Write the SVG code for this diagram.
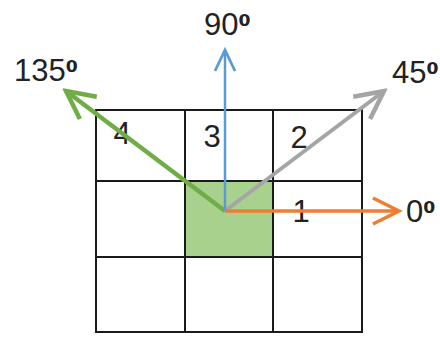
<svg xmlns="http://www.w3.org/2000/svg" width="440" height="338" viewBox="0 0 440 338">
<style>
.t{font-family:"Liberation Sans","Open Sans",sans-serif;font-size:31px;fill:#222}
.sup{font-family:"DejaVu Sans",sans-serif;font-size:28px;font-weight:bold}
.grid{fill:none;stroke:#1a1a1a;stroke-width:2}
.arr{fill:none;stroke-linecap:butt}
</style>
<defs>
<marker id="mG" markerUnits="userSpaceOnUse" viewBox="-32 -17 36 34" refX="0" refY="0" markerWidth="36" markerHeight="34" orient="auto"><path d="M-28,-14 L0,0 L-28,14" fill="none" stroke="#70AD47" stroke-width="4.5" stroke-linejoin="miter"/></marker>
<marker id="mS" markerUnits="userSpaceOnUse" viewBox="-32 -17 36 34" refX="0" refY="0" markerWidth="36" markerHeight="34" orient="auto"><path d="M-28,-14 L0,0 L-28,14" fill="none" stroke="#A5A5A5" stroke-width="4.5" stroke-linejoin="miter"/></marker>
<marker id="mO" markerUnits="userSpaceOnUse" viewBox="-32 -17 36 34" refX="0" refY="0" markerWidth="36" markerHeight="34" orient="auto"><path d="M-26,-13 L0,0 L-26,13" fill="none" stroke="#ED7D31" stroke-width="3.5" stroke-linejoin="miter"/></marker>
<marker id="mB" markerUnits="userSpaceOnUse" viewBox="-32 -17 36 34" refX="0" refY="0" markerWidth="36" markerHeight="34" orient="auto"><path d="M-21,-10 L0,0 L-21,10" fill="none" stroke="#5B9BD5" stroke-width="2.8" stroke-linejoin="miter"/></marker>
</defs>
<rect width="440" height="338" fill="#fff"/>
<g id="grid">
<rect x="185" y="181" width="88" height="76" fill="#A9D18E"/>
<rect class="grid" x="96" y="110" width="266" height="222"/>
<path class="grid" d="M185,110V332M273,110V332M96,181H362M96,257H362"/>
</g>
<g id="cell4"><text class="t" x="122" y="144" text-anchor="middle">4</text></g>
<g id="cell3"><text class="t" x="212" y="147" text-anchor="middle">3</text></g>
<g id="cell2"><text class="t" x="299" y="148" text-anchor="middle">2</text></g>
<g id="cell1"><text class="t" x="301" y="222" text-anchor="middle">1</text></g>
<g id="connectors">
<line class="arr" x1="225" y1="211" x2="66" y2="91" stroke="#70AD47" stroke-width="4.5" marker-end="url(#mG)"/>
<line class="arr" x1="225" y1="211" x2="384" y2="91" stroke="#A5A5A5" stroke-width="4" marker-end="url(#mS)"/>
<line class="arr" x1="225" y1="211" x2="225" y2="50" stroke="#5B9BD5" stroke-width="2.5" marker-end="url(#mB)"/>
<line class="arr" x1="225" y1="211" x2="399" y2="211" stroke="#ED7D31" stroke-width="3.5" marker-end="url(#mO)"/>
</g>
<g id="label135"><text class="t" x="14" y="81">135<tspan class="sup">⁰</tspan></text></g>
<g id="label90"><text class="t" x="204" y="35">90<tspan class="sup">⁰</tspan></text></g>
<g id="label45"><text class="t" x="392" y="83">45<tspan class="sup">⁰</tspan></text></g>
<g id="label0"><text class="t" x="406" y="222">0<tspan class="sup">⁰</tspan></text></g>
</svg>
